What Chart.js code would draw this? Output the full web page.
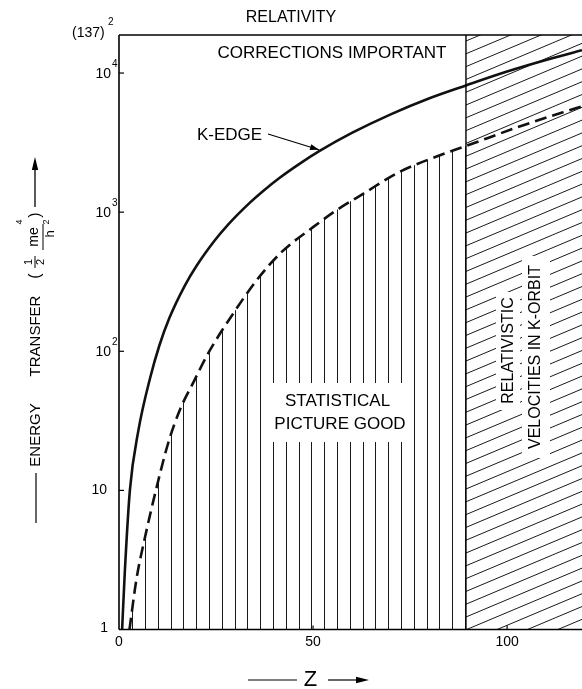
<!DOCTYPE html>
<html><head><meta charset="utf-8">
<style>html,body{margin:0;padding:0;background:#fff;overflow:hidden}#wrap{position:relative;width:582px;height:689px}</style>
<script src="https://cdn.jsdelivr.net/npm/chart.js@4.4.0/dist/chart.umd.min.js"></script>
</head><body><div id="wrap"><canvas id="c" width="582" height="689"></canvas></div>
<script>
// ---- data ----
const kEdgeZ = [0.8, 1.5, 2.8, 5, 8, 10.4, 13, 17, 20, 24.7, 28, 33.8, 37, 41.5, 46.6, 51.8, 60, 70, 80, 89.4, 100, 110, 119.3];
const kEdgeE = [1, 2.6, 10, 27, 64, 110, 174, 298, 412, 628, 808, 1176, 1410, 1775, 2235, 2765, 3710, 5050, 6590, 8150, 10250, 12400, 14600];
const statZ = [2.7, 4.5, 6.7, 9.5, 12.7, 15.7, 19.2, 23, 29.5, 35.5, 42, 50, 56, 63, 72, 82.7, 89.4, 104, 119.3];
const statE = [1, 2.3, 4.6, 10, 22, 38, 60, 97, 188, 325, 520, 780, 1030, 1360, 1930, 2565, 2990, 4200, 5770];
const relLimitZ = 89.4;
const xTicks = [0, 50, 100];
const yTicks = [1, 10, 100, 1000, 10000];
const yTop = 137 * 137;
const kEdgeArrowIndex = 15;

const F = "'Liberation Sans', Arial, sans-serif";
const canvas = document.getElementById('c');
const c0 = canvas.getContext('2d');

// vertical hatch tile
const tileV = document.createElement('canvas'); tileV.width = 128; tileV.height = 8;
const tv = tileV.getContext('2d'); tv.fillStyle = '#1a1a1a';
[4,17,30,43,55,68,81,94,107,119].forEach(px => tv.fillRect(px, 0, 1, 8));
const patV = c0.createPattern(tileV, 'repeat');

// diagonal hatch tile
const tileD = document.createElement('canvas'); tileD.width = 152; tileD.height = 64;
const td = tileD.getContext('2d'); td.strokeStyle = '#1a1a1a'; td.lineWidth = 1;
for (let k = -1; k <= 11; k++) {
  const y0 = 6.8 + 12.8 * k;
  td.beginPath(); td.moveTo(-2, y0 + 64/152*2); td.lineTo(154, y0 - 64/152*154); td.stroke();
}
const patD = c0.createPattern(tileD, 'repeat');

function pts(xs, ys) { return xs.map((z, i) => ({x: z, y: ys[i]})); }
function text(ctx, s, x, y, size, align = 'center') {
  ctx.font = size + 'px ' + F; ctx.textAlign = align; ctx.textBaseline = 'middle'; ctx.fillText(s, x, y);
}
function vtext(ctx, s, x, y, size) {
  ctx.save(); ctx.translate(x, y); ctx.rotate(-Math.PI / 2);
  ctx.font = size + 'px ' + F; ctx.textAlign = 'center'; ctx.textBaseline = 'middle';
  ctx.fillText(s, 0, 0);
  ctx.restore();
}
function line(ctx, x1, y1, x2, y2, w) {
  ctx.lineWidth = w; ctx.beginPath(); ctx.moveTo(x1, y1); ctx.lineTo(x2, y2); ctx.stroke();
}
function arrowHead(ctx, tx, ty, fx, fy, len, hw) {
  const a = Math.atan2(ty - fy, tx - fx);
  ctx.beginPath(); ctx.moveTo(tx, ty);
  ctx.lineTo(tx - len*Math.cos(a) + hw*Math.sin(a), ty - len*Math.sin(a) - hw*Math.cos(a));
  ctx.lineTo(tx - len*Math.cos(a) - hw*Math.sin(a), ty - len*Math.sin(a) + hw*Math.cos(a));
  ctx.closePath(); ctx.fill();
}

const deco = {
  id: 'deco',
  beforeDatasetsDraw(chart) {
    const {ctx, chartArea: a, scales: {x}} = chart;
    const xr = x.getPixelForValue(relLimitZ);
    ctx.save();
    ctx.fillStyle = patD;
    ctx.fillRect(xr, a.top, a.right - xr, a.bottom - a.top);
    ctx.fillStyle = '#fff';
    ctx.fillRect(496, 292, 24, 118);
    ctx.fillRect(522, 256, 28, 202);
    ctx.fillStyle = '#000';
    vtext(ctx, 'RELATIVISTIC', 508.5, 350.5, 16);
    vtext(ctx, 'VELOCITIES IN K-ORBIT', 535.5, 357, 16);
    ctx.restore();
  },
  afterDatasetsDraw(chart) {
    const {ctx, chartArea: a, scales: {x, y}} = chart;
    ctx.save();
    ctx.strokeStyle = '#000'; ctx.fillStyle = '#000';
    ctx.fillStyle = '#fff'; ctx.fillRect(270, 383, 140, 59);
    ctx.fillStyle = '#000';
    text(ctx, 'STATISTICAL', 337.5, 401, 17);
    text(ctx, 'PICTURE GOOD', 340, 424, 17);
    const xr = x.getPixelForValue(relLimitZ);
    line(ctx, a.left, a.top, a.right, a.top, 1.6);
    line(ctx, a.left, a.top, a.left, a.bottom, 1.6);
    line(ctx, a.left, a.bottom, a.right, a.bottom, 1.6);
    line(ctx, xr, a.top, xr, a.bottom, 1.4);
    yTicks.forEach(v => { if (v > yTicks[0]) { const py = y.getPixelForValue(v); line(ctx, a.left, py, a.left + 5, py, 1.2); } });
    xTicks.forEach(v => { if (v > xTicks[0]) { const px = x.getPixelForValue(v); line(ctx, px, a.bottom, px, a.bottom - 4, 1.2); } });
    xTicks.forEach(v => text(ctx, String(v), x.getPixelForValue(v), 642, 14));
    yTicks.forEach(v => {
      const py = y.getPixelForValue(v);
      const e = Math.round(Math.log10(v));
      if (e === 0) text(ctx, '1', 108, py - 1, 14, 'right');
      else if (e === 1) text(ctx, '10', 107, py, 14, 'right');
      else { text(ctx, '10', 111, py + 1, 14, 'right'); text(ctx, String(e), 112, py - 9, 10, 'left'); }
    });
    text(ctx, '(137)', 72, 33, 14, 'left');
    text(ctx, '2', 108, 22, 10, 'left');
    text(ctx, 'RELATIVITY', 291, 18, 16);
    text(ctx, 'CORRECTIONS IMPORTANT', 332, 53, 17);
    text(ctx, 'K-EDGE', 197, 135, 17, 'left');
    const p = chart.getDatasetMeta(0).data[kEdgeArrowIndex];
    line(ctx, 268, 134, p.x - 1, p.y - 1, 1.2);
    arrowHead(ctx, p.x - 1, p.y - 1, 268, 134, 9, 3);
    line(ctx, 248, 680, 297, 680, 1.2);
    text(ctx, 'Z', 310.5, 680, 22);
    line(ctx, 328, 680, 360, 680, 1.2);
    arrowHead(ctx, 369, 680, 328, 680, 13, 3.2);
    line(ctx, 36, 473, 36, 523, 1.2);
    vtext(ctx, 'ENERGY', 36, 435, 15);
    vtext(ctx, 'TRANSFER', 36, 336, 15);
    vtext(ctx, '(', 36, 276, 16);
    vtext(ctx, '1', 29, 262, 11);
    line(ctx, 35, 256, 35, 268, 1);
    vtext(ctx, '2', 41, 262, 11);
    vtext(ctx, 'me', 34, 237, 14);
    vtext(ctx, '4', 20, 222, 9);
    line(ctx, 43, 224, 43, 250, 1);
    vtext(ctx, 'h', 50, 234, 13);
    vtext(ctx, '2', 47, 222, 9);
    vtext(ctx, ')', 36, 215, 16);
    line(ctx, 35, 207, 35, 168, 1.3);
    arrowHead(ctx, 35, 157, 35, 207, 13, 3.2);
    ctx.restore();
  }
};

new Chart(canvas, {
  type: 'line',
  data: {
    datasets: [
      { data: pts(kEdgeZ, kEdgeE), borderColor: '#111', borderWidth: 2.6, fill: false, cubicInterpolationMode: 'monotone', pointRadius: 0 },
      { data: pts(statZ, statE), borderColor: '#111', borderWidth: 2.6, borderDash: [12, 6], fill: false, cubicInterpolationMode: 'monotone', pointRadius: 0 },
      { data: pts(statZ.filter(z => z <= relLimitZ), statE), borderColor: 'rgba(0,0,0,0)', borderWidth: 0, backgroundColor: patV, fill: {value: yTicks[0]}, cubicInterpolationMode: 'monotone', pointRadius: 0 }
    ]
  },
  options: {
    responsive: false, animation: false, devicePixelRatio: 1,
    layout: { padding: { left: 0, right: 0, top: 35, bottom: 59.5 } },
    plugins: { legend: { display: false }, tooltip: { enabled: false } },
    scales: {
      x: { type: 'linear', min: 0, max: 119.3, grid: { display: false }, border: { display: false }, ticks: { display: false },
           afterBuildTicks: s => { s.ticks = xTicks.map(v => ({ value: v })); }, afterFit: s => { s.height = 0; } },
      y: { type: 'logarithmic', min: yTicks[0], max: yTop, grid: { display: false }, border: { display: false }, ticks: { display: false },
           afterBuildTicks: s => { s.ticks = yTicks.map(v => ({ value: v })); }, afterFit: s => { s.width = 119; } }
    }
  },
  plugins: [deco]
});
</script></body></html>
